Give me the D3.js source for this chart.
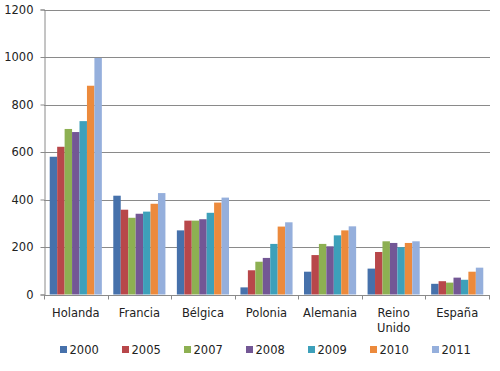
<!DOCTYPE html>
<html><head><meta charset="utf-8">
<script src="https://cdn.jsdelivr.net/npm/d3@7"></script>
<style>body{margin:0;background:#fff}svg{display:block}text{font-family:"DejaVu Sans",Verdana,sans-serif;fill:#222}</style>
</head><body>
<script>
const categories = ["Holanda","Francia","Bélgica","Polonia","Alemania","Reino Unido","España"];
const seriesNames = ["2000","2005","2007","2008","2009","2010","2011"];
const colors = ["#4671AB","#B8474A","#8DB052","#735795","#3DA0BA","#EC8A3C","#95AFDC"];
const s2000 = [580,416,270,30,96,109,45];
const s2005 = [622,357,311,102,166,179,56];
const s2007 = [697,323,311,138,213,224,50];
const s2008 = [684,340,317,154,203,217,71];
const s2009 = [730,349,344,213,249,199,62];
const s2010 = [879,382,387,286,270,217,96];
const s2011 = [996,427,408,304,287,224,113];
const seriesValues = [s2000,s2005,s2007,s2008,s2009,s2010,s2011];
const yTicks = [0,200,400,600,800,1000,1200];

(function(){
const W=500,H=371;
const svg=d3.select("body").append("svg").attr("width",W).attr("height",H);
const pL=44, pR=489, pT=9.5, pB=294.5;
const x=d3.scaleBand().domain(categories).range([pL,pR]).paddingInner(0.18).paddingOuter(0.09);
const xOuter=d3.scaleBand().domain(categories).range([pL,pR]);
const xs=d3.scaleBand().domain(seriesNames).range([0,x.bandwidth()]);
const y=d3.scaleLinear().domain([0,1200]).range([pB,pT]);

svg.append("g").selectAll("line").data(yTicks.filter(d=>d>0)).join("line")
  .attr("x1",pL).attr("x2",pR+1).attr("y1",d=>Math.round(y(d))+0.5).attr("y2",d=>Math.round(y(d))+0.5)
  .attr("stroke","#8a8a8a").attr("stroke-width",1);

const g=svg.append("g");
seriesNames.forEach((s,i)=>{
  g.append("g").selectAll("rect").data(categories).join("rect")
    .attr("x",c=>x(c)+xs(s)).attr("width",xs.bandwidth())
    .attr("y",(c,j)=>y(seriesValues[i][j])).attr("height",(c,j)=>y(0)-y(seriesValues[i][j]))
    .attr("fill",colors[i]);
});

const yAxis=d3.axisLeft(y).tickValues(yTicks).tickFormat(d3.format("d")).tickSize(4).tickPadding(7);
const ya=svg.append("g").attr("transform",`translate(${pL+0.5},0)`).call(yAxis);
ya.select(".domain").attr("stroke","#8a8a8a");
ya.selectAll(".tick line").attr("stroke","#8a8a8a");
ya.selectAll("text").style("font-size","11.5px").style("font-family","DejaVu Sans").attr("fill","#222");

const xa=svg.append("g").attr("transform",`translate(0,${Math.round(pB)+0.5})`);
xa.append("line").attr("x1",pL).attr("x2",pR+1).attr("stroke","#8a8a8a");
xa.selectAll(".tk").data(categories.concat(["__end"])).join("line")
  .attr("x1",(d,i)=>Math.round(pL+i*xOuter.step())+0.5).attr("x2",(d,i)=>Math.round(pL+i*xOuter.step())+0.5)
  .attr("y1",0).attr("y2",4).attr("stroke","#8a8a8a");
xa.selectAll("text").data(categories).join("text")
  .attr("text-anchor","middle").style("font-size","11.5px")
  .attr("x",c=>xOuter(c)+xOuter.bandwidth()/2)
  .each(function(c){
    const parts=c==="Reino Unido"?["Reino","Unido"]:[c];
    d3.select(this).selectAll("tspan").data(parts).join("tspan")
      .attr("x",xOuter(c)+xOuter.bandwidth()/2).attr("y",(d,k)=>21+k*15.5).text(d=>d);
  });

const leg=svg.append("g");
seriesNames.forEach((s,i)=>{
  const lx=60+i*62;
  leg.append("rect").attr("x",lx).attr("y",346).attr("width",7).attr("height",7).attr("fill",colors[i]);
  leg.append("text").attr("x",lx+9.5).attr("y",353.5).style("font-size","11.5px").text(s);
});
})();
</script>
</body></html>
